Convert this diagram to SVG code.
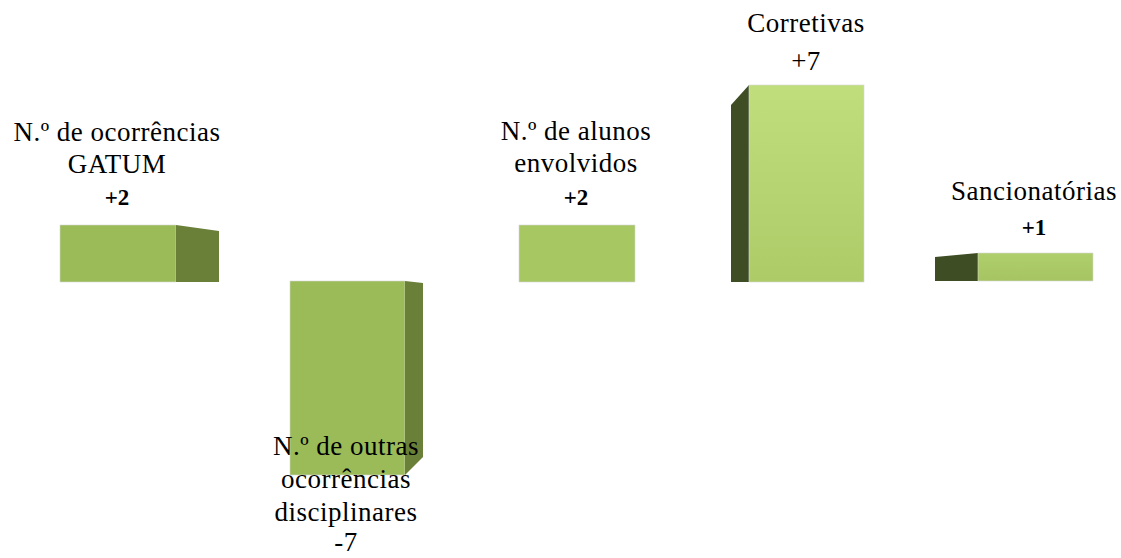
<svg xmlns="http://www.w3.org/2000/svg" width="1121" height="558" viewBox="0 0 1121 558">
<defs>
<linearGradient id="g4" x1="0" y1="0" x2="0" y2="1"><stop offset="0" stop-color="#C0DE7C"/><stop offset="1" stop-color="#ADCC68"/></linearGradient>
<linearGradient id="g5" x1="0" y1="0" x2="0" y2="1"><stop offset="0" stop-color="#AFCE6C"/><stop offset="1" stop-color="#A6C562"/></linearGradient>
</defs>
<style>
.lbl{font-family:"Liberation Serif","Times New Roman",serif;font-size:27px;letter-spacing:0.5px;fill:#000;text-anchor:middle}
.val{font-family:"Liberation Serif","Times New Roman",serif;font-size:23px;font-weight:bold;fill:#000;text-anchor:middle}
.front1{fill:#9BBB59;stroke:#d8d8d8;stroke-width:0.6}
.side1{fill:#6A7F38}
.front3{fill:#A7C763;stroke:#d8d8d8;stroke-width:0.6}
.sideD{fill:#3E4D24}
</style>
<g id="bar-gatum">
<rect class="front1" x="60" y="225" width="116" height="57"/>
<polygon class="side1" points="176,225 219,231 219,282 176,282"/>
<text class="lbl" x="117" y="141">N.º de ocorrências</text>
<text class="lbl" x="117" y="173">GATUM</text>
<text class="val" x="117" y="205">+2</text>
</g>
<g id="bar-outras">
<rect class="front1" x="290" y="281" width="115" height="194"/>
<polygon class="side1" points="405,281 423,283 423,457 405,475"/>
<text class="lbl" x="346" y="455">N.º de outras</text>
<text class="lbl" x="346" y="488">ocorrências</text>
<text class="lbl" x="346" y="521">disciplinares</text>
<text class="lbl" x="346" y="551">-7</text>
</g>
<g id="bar-alunos">
<rect class="front3" x="519" y="225" width="116" height="57"/>
<text class="lbl" x="576" y="140">N.º de alunos</text>
<text class="lbl" x="576" y="172">envolvidos</text>
<text class="val" x="576" y="205">+2</text>
</g>
<g id="bar-corretivas">
<polygon class="sideD" points="731,105 749,85 749,282 731,282"/>
<rect x="749" y="85" width="115" height="197" fill="url(#g4)" stroke="#d8d8d8" stroke-width="0.6"/>
<text class="lbl" x="806" y="32">Corretivas</text>
<text class="lbl" x="806" y="70">+7</text>
</g>
<g id="bar-sancionatorias">
<polygon class="sideD" points="935,257 978,253 978,281 935,281"/>
<rect x="978" y="253" width="115" height="28" fill="url(#g5)" stroke="#d8d8d8" stroke-width="0.6"/>
<text class="lbl" x="1034" y="200">Sancionatórias</text>
<text class="val" x="1034" y="235">+1</text>
</g>
<g id="connectors"/>
</svg>
